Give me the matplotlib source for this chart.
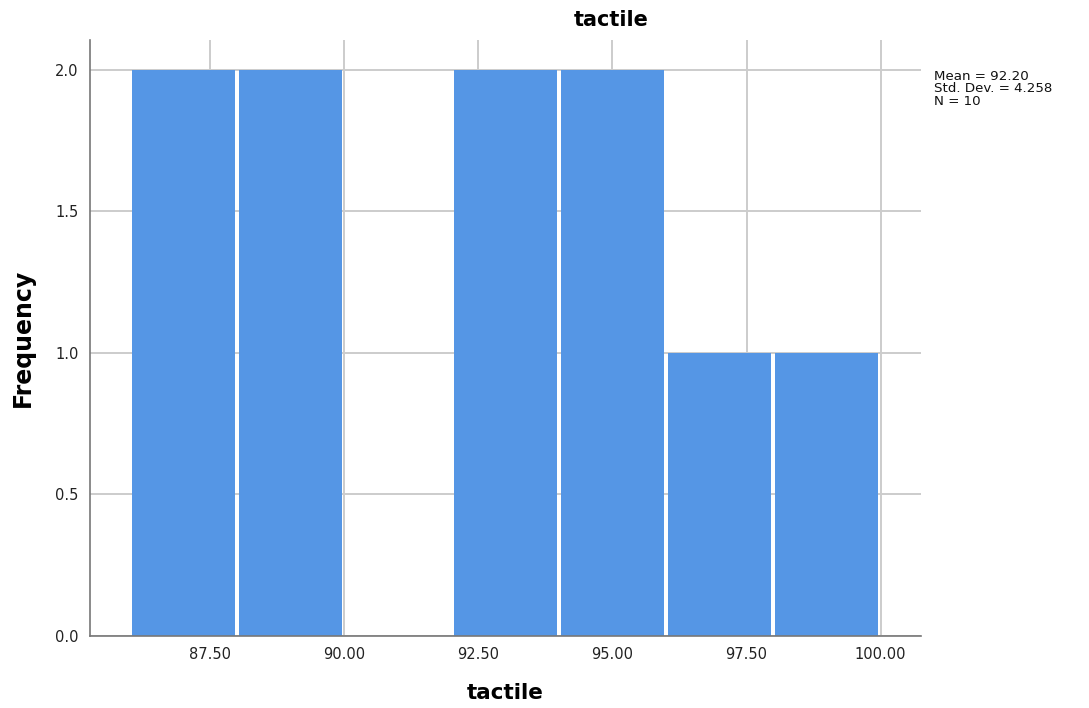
import matplotlib.pyplot as plt
import numpy as np

# histogram data (SPSS style)
bin_edges = [86, 88, 90, 92, 94, 96, 98, 100]
counts = [2, 2, 0, 2, 2, 1, 1]
x_ticks = [87.5, 90.0, 92.5, 95.0, 97.5, 100.0]
y_ticks = [0.0, 0.5, 1.0, 1.5, 2.0]
stats_lines = ["Mean = 92.20", "Std. Dev. = 4.258", "N = 10"]

fig = plt.figure(figsize=(10.89, 7.08), dpi=100)
ax = fig.add_axes([0.0826, 0.1017, 0.763, 0.842])

lefts = np.array(bin_edges[:-1], dtype=float)
widths = np.diff(bin_edges)
gap = 0.04
ax.bar(lefts + gap, counts, width=widths - 2 * gap, align='edge',
       color='#5596e5', edgecolor='none', zorder=2)

ax.set_xlim(85.26, 100.75)
ax.set_ylim(0, 2.106)
ax.set_xticks(x_ticks)
ax.set_xticklabels([f"{t:.2f}" for t in x_ticks])
ax.set_yticks(y_ticks)
ax.set_yticklabels([f"{t:.1f}" for t in y_ticks])
ax.tick_params(length=0, labelsize=10.5, colors='#222222', pad=8)
ax.grid(True, color='#cccccc', linewidth=1.4, zorder=0)
ax.set_axisbelow(True)

for s in ['top', 'right']:
    ax.spines[s].set_visible(False)
for s in ['left', 'bottom']:
    ax.spines[s].set_color('#777777')
    ax.spines[s].set_linewidth(1.2)
    ax.spines[s].set_zorder(3)

ax.set_xlabel('tactile', fontsize=15.5, fontweight='bold', labelpad=15)
ax.set_ylabel('Frequency', fontsize=17, fontweight='bold', labelpad=15)
fig.text(611 / 1089, 1 - 20 / 708, 'tactile', fontsize=15, fontweight='bold',
         ha='center', va='center')

fig.text(934 / 1089, 1 - 70 / 708, "\n".join(stats_lines), fontsize=9.6,
         ha='left', va='top', linespacing=0.95, color='#111111')

fig.savefig('out.png', dpi=100)
